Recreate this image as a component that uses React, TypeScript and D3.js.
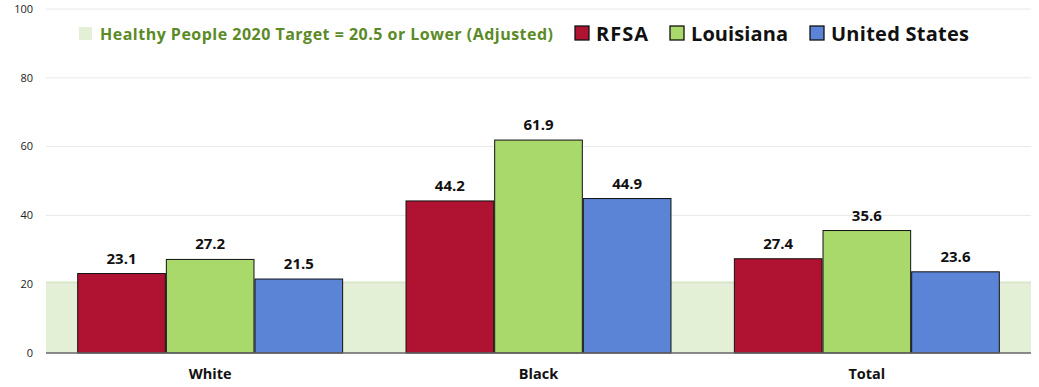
import React from 'react';
import * as d3 from 'd3';

const categories = ['White', 'Black', 'Total'];
const seriesNames = ['RFSA', 'Louisiana', 'United States'];
const rfsa = [23.1, 44.2, 27.4];
const louisiana = [27.2, 61.9, 35.6];
const unitedStates = [21.5, 44.9, 23.6];
const yTicks = [0, 20, 40, 60, 80, 100];
const target = 20.5;
const targetLabel = 'Healthy People 2020 Target = 20.5 or Lower (Adjusted)';

const colors = ['#B01232', '#A8D96A', '#5B84D6'];
const font = '"Open Sans", "Noto Sans", sans-serif';

const App: React.FC = () => {
  const width = 1039;
  const height = 387;
  const margin = { top: 9, right: 8, bottom: 34, left: 46 };
  const innerW = width - margin.left - margin.right;
  const innerH = height - margin.top - margin.bottom;

  const x = d3.scaleBand().domain(categories).range([0, innerW]).paddingInner(0.19).paddingOuter(0.095);
  const xs = d3.scaleBand().domain(seriesNames).range([0, x.bandwidth()]);
  const y = d3.scaleLinear().domain([0, 100]).range([innerH, 0]);

  const data = [rfsa, louisiana, unitedStates];

  // legend layout
  const legend = [
    { x: 574, w: 52, name: seriesNames[0], color: colors[0] },
    { x: 669, w: 97, name: seriesNames[1], color: colors[1] },
    { x: 809, w: 138, name: seriesNames[2], color: colors[2] },
  ];

  return (
    <svg width={width} height={height} style={{ position: 'absolute', left: 0, top: 0, fontFamily: font }}>
      <rect width={width} height={height} fill="#fff" />
      <g transform={`translate(${margin.left},${margin.top})`}>
        {/* target band */}
        <rect x={0} y={y(target)} width={innerW} height={y(0) - y(target)} fill="#E4F0D6" />
        <line x1={0} x2={innerW} y1={y(target)} y2={y(target)} stroke="#D6E8C2" strokeWidth={2} />
        {/* grid */}
        {yTicks.filter(t => t > 0).map(t => (
          <line key={t} x1={0} x2={innerW} y1={y(t)} y2={y(t)} stroke="#E8E8E8" strokeWidth={1} />
        ))}
        {yTicks.map(t => (
          <text key={t} x={-13} y={y(t)} dy="0.35em" textAnchor="end" fontSize={11} fill="#222">{t}</text>
        ))}
        {/* bars */}
        {categories.map((c, ci) => (
          <g key={c} transform={`translate(${x(c)},0)`}>
            {seriesNames.map((s, si) => {
              const v = data[si][ci];
              return (
                <g key={s}>
                  <rect x={xs(s)! + 0.5} y={y(v)} width={xs.bandwidth() - 1} height={y(0) - y(v)}
                    fill={colors[si]} stroke="#111" strokeWidth={1} />
                  <text x={xs(s)! + xs.bandwidth() / 2} y={y(v) - 10} textAnchor="middle"
                    fontSize={15} fontWeight="bold" fill="#111">{v.toFixed(1)}</text>
                </g>
              );
            })}
            <text x={x.bandwidth() / 2} y={innerH + 26} textAnchor="middle" fontSize={14.5} fontWeight="bold" fill="#111">{c}</text>
          </g>
        ))}
        <line x1={0} x2={innerW} y1={y(0)} y2={y(0)} stroke="#666" strokeWidth={1.5} />
      </g>
      {/* legend */}
      <rect x={79} y={27} width={13} height={13} fill="#E4F0D6" />
      <text x={100} y={39.5} fontSize={16} fontWeight="bold" fill="#5B8A26" textLength={453} lengthAdjust="spacing">{targetLabel}</text>
      {legend.map(l => (
        <g key={l.name}>
          <rect x={l.x + 1} y={26} width={14} height={14} fill={l.color} stroke="#111" strokeWidth={1.3} />
          <text x={l.x + 22} y={40.5} fontSize={20} fontWeight="bold" fill="#111" textLength={l.w} lengthAdjust="spacing">{l.name}</text>
        </g>
      ))}
    </svg>
  );
};

export default App;
